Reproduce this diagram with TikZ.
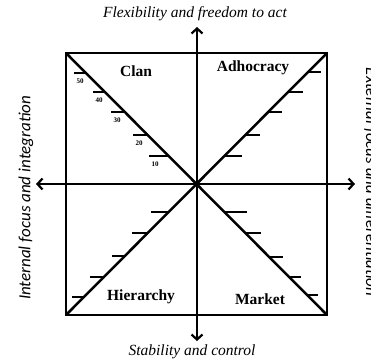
\documentclass[tikz,border=0pt]{standalone}
\usepackage{fontspec}
\setmainfont{Liberation Serif}
\newfontfamily\carl{Carlito}
\usetikzlibrary{arrows.meta}
\begin{document}
\begin{tikzpicture}[x=1pt,y=-1pt,
  thick line/.style={line width=2.5pt, line cap=round},
  axis/.style={line width=2.5pt, -{Straight Barb[length=5pt,width=11pt,line width=2.2pt]}},
  tickline/.style={line width=2.4pt},
  quad/.style={font=\fontsize{15.5}{16}\selectfont\bfseries, inner sep=0pt},
  axlabel/.style={font=\fontsize{15.5}{16}\selectfont\itshape, inner sep=0pt},
  sidelabel/.style={font=\carl\fontsize{17}{18}\selectfont\itshape, inner sep=0pt},
  num/.style={font=\fontsize{7}{8}\selectfont\bfseries, inner sep=0pt}]
\useasboundingbox (0,0) rectangle (371,362);
\clip (0,0) rectangle (371,362);
% key coordinates
\coordinate (C) at (197,184);
\coordinate (TL) at (66,53);
\coordinate (TR) at (327,53);
\coordinate (BL) at (66,315);
\coordinate (BR) at (327,315);
\coordinate (N) at (197,27);
\coordinate (S) at (197,341);
\coordinate (W) at (36,184);
\coordinate (E) at (355,184);
% square
\draw[thick line] (TL) -- (TR) -- (BR) -- (BL) -- cycle;
% axes
\draw[axis] (C) -- (N);
\draw[axis] (C) -- (S);
\draw[axis] (C) -- (W);
\draw[axis] (C) -- (E);
% diagonals
\draw[thick line] (TL) -- (BR);
\draw[thick line] (TR) -- (BL);
% ticks: Clan (with numbers)
\foreach \d/\l/\n in {28/20/10, 49/15/20, 72/14/30, 92/12/40, 111/12/50}{
  \draw[tickline] (197-\d,184-\d) -- ++(-\l,0);
  \node[num] (n\n) at (197-\d-\l+6,184-\d+8) {\n};
}
% Adhocracy
\foreach \d/\l in {28/17, 49/14, 72/13, 92/14, 112/12}{
  \draw[tickline] (197+\d,184-\d) -- ++(\l,0);
}
% Hierarchy
\foreach \d/\l in {28/18, 49/16, 72/13, 93/14, 113/12}{
  \draw[tickline] (197-\d,184+\d) -- ++(-\l,0);
}
% Market
\foreach \d/\l in {28/22, 49/15, 73/13, 93/11, 111/10}{
  \draw[tickline] (197+\d,184+\d) -- ++(\l,0);
}
% quadrant labels
\node[quad] (clan) at (136,71) {Clan};
\node[quad] (adh) at (253,68) {Adhocracy};
\node[quad] (hier) at (141,297) {Hierarchy};
\node[quad] (mkt) at (260,299) {Market};
% axis labels
\node[axlabel] (top) at (195,14) {Flexibility and freedom to act};
\node[axlabel] (bot) at (192,352) {Stability and control};
\node[sidelabel, rotate=90] (left) at (26,198) {Internal focus and integration};
\node[sidelabel, rotate=-90] (right) at (371,182) {External focus and differentiation};
\end{tikzpicture}
\end{document}
